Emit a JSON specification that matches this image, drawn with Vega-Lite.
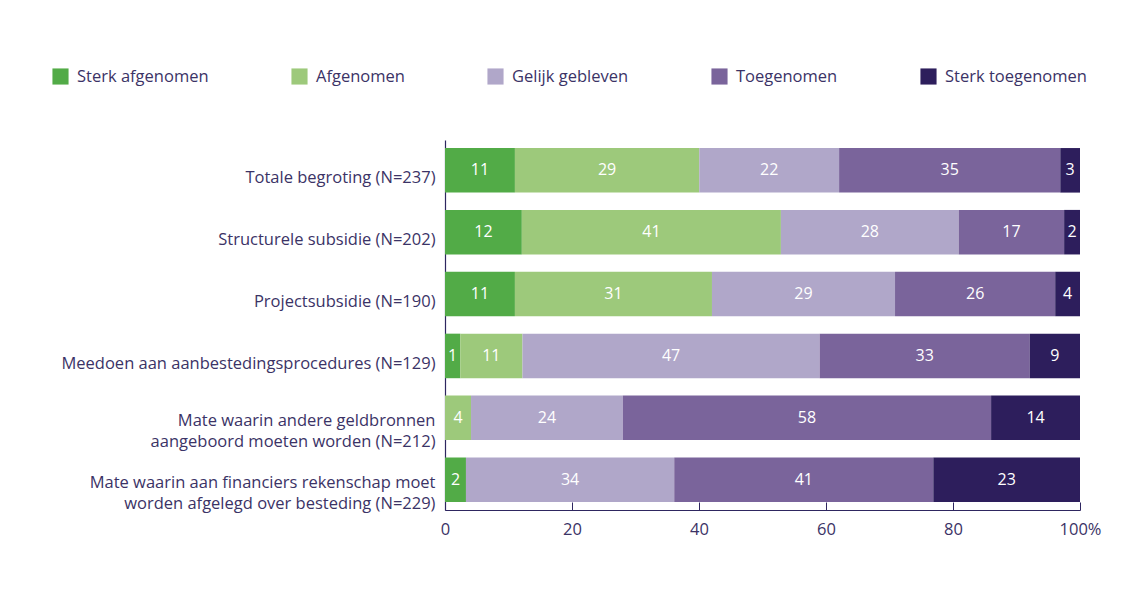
{
  "$schema": "https://vega.github.io/schema/vega-lite/v6.json",
  "width": 635,
  "height": 370,
  "autosize": {"type": "none"},
  "padding": {"left": 445, "top": 140, "right": 58, "bottom": 95},
  "background": "white",
  "config": {
    "view": {"stroke": null},
    "font": "Open Sans",
    "text": {"font": "Open Sans"}
  },
  "data": {
    "values": [
      {"item": "Totale begroting (N=237)", "cat": "Sterk afgenomen", "k": 1, "v": 11.0, "lbl": "11"},
      {"item": "Totale begroting (N=237)", "cat": "Afgenomen", "k": 2, "v": 29.0, "lbl": "29"},
      {"item": "Totale begroting (N=237)", "cat": "Gelijk gebleven", "k": 3, "v": 22.0, "lbl": "22"},
      {"item": "Totale begroting (N=237)", "cat": "Toegenomen", "k": 4, "v": 34.8, "lbl": "35"},
      {"item": "Totale begroting (N=237)", "cat": "Sterk toegenomen", "k": 5, "v": 3.1, "lbl": "3"},
      {"item": "Structurele subsidie (N=202)", "cat": "Sterk afgenomen", "k": 1, "v": 12.1, "lbl": "12"},
      {"item": "Structurele subsidie (N=202)", "cat": "Afgenomen", "k": 2, "v": 40.8, "lbl": "41"},
      {"item": "Structurele subsidie (N=202)", "cat": "Gelijk gebleven", "k": 3, "v": 28.0, "lbl": "28"},
      {"item": "Structurele subsidie (N=202)", "cat": "Toegenomen", "k": 4, "v": 16.6, "lbl": "17"},
      {"item": "Structurele subsidie (N=202)", "cat": "Sterk toegenomen", "k": 5, "v": 2.5, "lbl": "2"},
      {"item": "Projectsubsidie (N=190)", "cat": "Sterk afgenomen", "k": 1, "v": 11.0, "lbl": "11"},
      {"item": "Projectsubsidie (N=190)", "cat": "Afgenomen", "k": 2, "v": 31.0, "lbl": "31"},
      {"item": "Projectsubsidie (N=190)", "cat": "Gelijk gebleven", "k": 3, "v": 28.8, "lbl": "29"},
      {"item": "Projectsubsidie (N=190)", "cat": "Toegenomen", "k": 4, "v": 25.2, "lbl": "26"},
      {"item": "Projectsubsidie (N=190)", "cat": "Sterk toegenomen", "k": 5, "v": 3.9, "lbl": "4"},
      {"item": "Meedoen aan  aanbestedingsprocedures (N=129)", "cat": "Sterk afgenomen", "k": 1, "v": 2.4, "lbl": "1"},
      {"item": "Meedoen aan  aanbestedingsprocedures (N=129)", "cat": "Afgenomen", "k": 2, "v": 9.8, "lbl": "11"},
      {"item": "Meedoen aan  aanbestedingsprocedures (N=129)", "cat": "Gelijk gebleven", "k": 3, "v": 46.8, "lbl": "47"},
      {"item": "Meedoen aan  aanbestedingsprocedures (N=129)", "cat": "Toegenomen", "k": 4, "v": 33.1, "lbl": "33"},
      {"item": "Meedoen aan  aanbestedingsprocedures (N=129)", "cat": "Sterk toegenomen", "k": 5, "v": 7.9, "lbl": "9"},
      {"item": "Mate waarin andere geldbronnen|aangeboord moeten worden (N=212)", "cat": "Afgenomen", "k": 2, "v": 4.1, "lbl": "4"},
      {"item": "Mate waarin andere geldbronnen|aangeboord moeten worden (N=212)", "cat": "Gelijk gebleven", "k": 3, "v": 23.9, "lbl": "24"},
      {"item": "Mate waarin andere geldbronnen|aangeboord moeten worden (N=212)", "cat": "Toegenomen", "k": 4, "v": 58.0, "lbl": "58"},
      {"item": "Mate waarin andere geldbronnen|aangeboord moeten worden (N=212)", "cat": "Sterk toegenomen", "k": 5, "v": 14.0, "lbl": "14"},
      {"item": "Mate waarin aan  financiers rekenschap moet|worden afgelegd over besteding (N=229)", "cat": "Sterk afgenomen", "k": 1, "v": 3.3, "lbl": "2"},
      {"item": "Mate waarin aan  financiers rekenschap moet|worden afgelegd over besteding (N=229)", "cat": "Gelijk gebleven", "k": 3, "v": 32.8, "lbl": "34"},
      {"item": "Mate waarin aan  financiers rekenschap moet|worden afgelegd over besteding (N=229)", "cat": "Toegenomen", "k": 4, "v": 40.8, "lbl": "41"},
      {"item": "Mate waarin aan  financiers rekenschap moet|worden afgelegd over besteding (N=229)", "cat": "Sterk toegenomen", "k": 5, "v": 23.1, "lbl": "23"}
    ]
  },
  "encoding": {
    "y": {
      "field": "item",
      "type": "nominal",
      "sort": null,
      "title": null,
      "scale": {"paddingInner": 0.28, "paddingOuter": 0.13},
      "axis": {
        "labelExpr": "split(datum.label, '|')",
        "labelFontSize": 16.5,
        "labelLineHeight": 21,
        "labelColor": "#3b3366",
        "labelPadding": 10,
        "labelLimit": 500,
        "labelOffset": {"condition": {"test": "indexof(datum.value, '|') >= 0", "value": 3}, "value": 8},
        "ticks": false,
        "domain": true,
        "domainColor": "#2e2660",
        "domainWidth": 1.2
      }
    }
  },
  "layer": [
    {
      "mark": {"type": "bar"},
      "encoding": {
        "x": {
          "field": "v",
          "type": "quantitative",
          "stack": "normalize",
          "title": null,
          "scale": {"domain": [0, 1], "nice": false},
          "axis": {
            "values": [0, 0.2, 0.4, 0.6, 0.8, 1],
            "labelExpr": "datum.value == 1 ? '100%' : format(datum.value * 100, 'd')",
            "labelFontSize": 16.5,
            "labelColor": "#3b3366",
            "grid": false,
            "tickSize": -8,
            "tickColor": "#2e2660",
            "domainColor": "#2e2660",
            "domainWidth": 1.2,
            "labelPadding": 19,
            "labelFlush": false
          }
        },
        "color": {
          "field": "cat",
          "type": "nominal",
          "scale": {
            "domain": ["Sterk afgenomen", "Afgenomen", "Gelijk gebleven", "Toegenomen", "Sterk toegenomen"],
            "range": ["#52ab47", "#9dc97b", "#b0a7c9", "#7a649b", "#2d1e5c"]
          },
          "legend": {
            "orient": "none",
            "legendX": -393,
            "legendY": -72,
            "direction": "horizontal",
            "columns": 5,
            "title": null,
            "symbolType": "square",
            "symbolSize": 260,
            "symbolStrokeWidth": 0,
            "symbolOpacity": 1,
            "labelFontSize": 16.5,
            "labelColor": "#3b3366",
            "labelOffset": 8,
            "columnPadding": 82,
            "gridAlign": "none",
            "labelLimit": 300
          }
        },
        "order": {"field": "k", "type": "quantitative"}
      }
    },
    {
      "mark": {"type": "text", "color": "white", "fontSize": 16, "align": "center", "baseline": "middle"},
      "encoding": {
        "x": {"field": "v", "type": "quantitative", "stack": "normalize", "bandPosition": 0.5},
        "text": {"field": "lbl", "type": "nominal"},
        "detail": {"field": "cat"},
        "order": {"field": "k", "type": "quantitative"}
      }
    }
  ]
}
